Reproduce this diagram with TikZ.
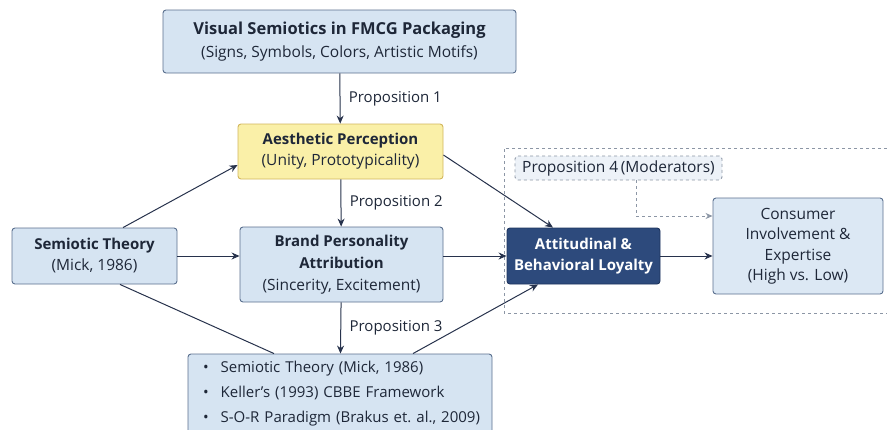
\documentclass[tikz,border=0pt]{standalone}
\usepackage{fontspec}
\setmainfont{Open Sans}
\usetikzlibrary{arrows.meta}

\definecolor{boxblue}{HTML}{D6E4F2}
\definecolor{boxline}{HTML}{5A6F8E}
\definecolor{aesfill}{HTML}{FAF0A8}
\definecolor{aesline}{HTML}{D2B65C}
\definecolor{navy}{HTML}{2D4A7C}
\definecolor{navyline}{HTML}{1E355E}
\definecolor{textdark}{HTML}{1E2738}
\definecolor{arrowcol}{HTML}{27324C}
\definecolor{dashcol}{HTML}{8C96A5}
\definecolor{propfill}{HTML}{EDF2F8}

\newcommand\boxhead[1]{{\fontsize{15}{21}\selectfont\bfseries #1}}
\newcommand\bulletitem{\hspace*{12pt}\textbullet\hspace{12pt}}

\tikzset{
  box/.style={draw=boxline, fill=boxblue, rounded corners=3pt, line width=0.9pt,
              align=center, inner sep=0pt, text=textdark,
              font=\fontsize{15.5}{21}\selectfont},
  conn/.style={draw=arrowcol, line width=1pt, -{Stealth[length=8pt,width=7pt]}},
  plain/.style={draw=arrowcol, line width=1pt},
  proplabel/.style={right=5pt, text=textdark, font=\fontsize{15}{18}\selectfont},
}

\begin{document}
\begin{tikzpicture}[x=1pt,y=-1pt]
\useasboundingbox (0,0) rectangle (887,429);

% dashed moderator frame
\draw [dashcol, dashed, line width=0.9pt] (887,148) -- (504,148) -- (504,313) -- (887,313);

\node [box, minimum width=353pt, minimum height=63pt, font=\fontsize{15.5}{23}\selectfont] (visual) at (339.5,41.5)
  {{\fontsize{16.5}{23}\selectfont\bfseries Visual Semiotics in FMCG Packaging}\\(Signs, Symbols, Colors, Artistic Motifs)};

\node [box, fill=aesfill, draw=aesline, minimum width=205pt, minimum height=55pt] (aes) at (340.5,151.5)
  {\boxhead{Aesthetic Perception}\\(Unity, Prototypicality)};

\node [box, minimum width=203pt, minimum height=75pt, font=\fontsize{15.5}{22}\selectfont] (brand) at (341.5,264.5)
  {\boxhead{Brand Personality}\\\boxhead{Attribution}\\(Sincerity, Excitement)};

\node [box, minimum width=165pt, minimum height=56pt] (semio) at (94.5,256)
  {\boxhead{Semiotic Theory}\\(Mick, 1986)};

\node [box, fill=navy, draw=navyline, text=white, minimum width=153pt, minimum height=56pt] (loyal) at (583.5,256)
  {\boxhead{Attitudinal \&}\\\boxhead{Behavioral Loyalty}};

\node [box, fill=boxblue!85!white, minimum width=170pt, minimum height=96pt, font=\fontsize{15.5}{20.5}\selectfont] (consumer) at (798,246)
  {Consumer\\Involvement \&\\Expertise\\(High vs. Low)};

\node [box, fill=propfill, draw=dashcol, dashed, minimum width=207pt, minimum height=24pt] (prop4) at (618.5,168)
  {Proposition 4\,(Moderators)};

\node [box, align=left, minimum width=304pt, minimum height=80pt, text width=298pt,
       font=\fontsize{15}{25}\selectfont] (theory) at (340,394)
  {\bulletitem Semiotic Theory (Mick, 1986)\\
   \bulletitem Keller's (1993) CBBE Framework\\
   \bulletitem S-O-R Paradigm (Brakus et.\ al., 2009)};

% propositions down the middle
\draw [conn] (visual) -- node [proplabel] {Proposition 1} (aes);
\draw [conn] (aes) -- node [proplabel] {Proposition 2} (brand);
\draw [conn] (brand) -- node [proplabel] {Proposition 3} (theory);

\draw [conn] ([xshift=28.5pt]semio.north) -- ([yshift=-13.5pt]aes.west);
\draw [conn] (semio.east) -- (semio.east -| brand.west);
\draw [plain] ([xshift=25.5pt]semio.south) -- ([xshift=-66pt]theory.north);

\draw [conn] ([yshift=-3.5pt]aes.east) -- ([xshift=-30.5pt]loyal.north);
\draw [conn] (loyal.west -| brand.east) -- (loyal.west);
\draw [conn] ([xshift=73pt]theory.north) -- ([xshift=-45.5pt]loyal.south);
\draw [conn] (loyal.east) -- (loyal.east -| consumer.west);

\draw [dashcol, dashed, line width=0.9pt, -{Stealth[length=7pt,width=6pt]}]
  ([xshift=17.5pt]prop4.south) |- ([yshift=30pt]consumer.west);
\end{tikzpicture}
\end{document}
